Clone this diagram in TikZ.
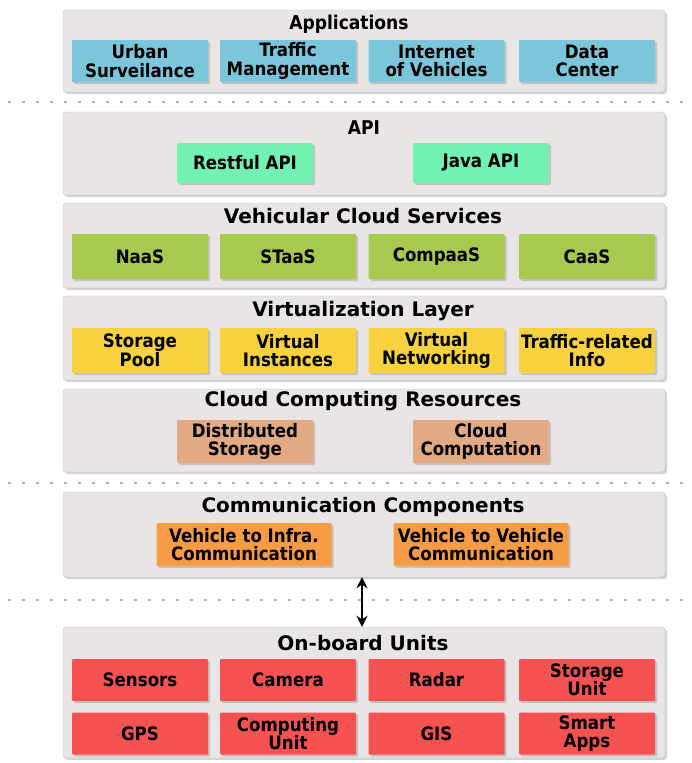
\documentclass[tikz,border=0pt]{standalone}
\usepackage{fontspec}
\setmainfont{DejaVu Sans}
\newfontfamily\condfont{DejaVu Sans Condensed}
\usetikzlibrary{shadows,arrows.meta}
\definecolor{layergray}{HTML}{E9E5E5}
\definecolor{appblue}{HTML}{7CC6DC}
\definecolor{apimint}{HTML}{72F2B2}
\definecolor{svcgreen}{HTML}{A9C84F}
\definecolor{virtyellow}{HTML}{F8D23E}
\definecolor{restan}{HTML}{E2AA82}
\definecolor{commorange}{HTML}{F79C45}
\definecolor{obured}{HTML}{F65252}
\tikzset{
  layerbox/.style={draw=gray!50, fill=layergray, rounded corners=3pt, minimum width=602pt, inner sep=0pt,
    drop shadow={opacity=0.35, shadow xshift=2pt, shadow yshift=-2pt}},
  layertitle/.style={font=\bfseries\fontsize{20}{22}\selectfont, inner sep=0pt},
  condtitle/.style={font=\condfont\bfseries\fontsize{19}{21}\selectfont, inner sep=0pt},
  item/.style={minimum width=136pt, minimum height=42pt, inner sep=0pt, align=center,
    font=\condfont\bfseries\fontsize{18.5}{18.5}\selectfont, rounded corners=1pt,
    drop shadow={opacity=0.35, shadow xshift=2pt, shadow yshift=-2pt}},
  sep/.style={draw=gray!60, line width=1.5pt, dash pattern=on 3pt off 11pt}
}
\begin{document}
\begin{tikzpicture}[x=1pt,y=-1pt]
\useasboundingbox (0,0) rectangle (692,763);
% layers
\node[layerbox, minimum height=82pt] (app) at (364,51) {};
\node[layerbox, minimum height=83pt] (api) at (364,153.5) {};
\node[layerbox, minimum height=85pt] (vcs) at (364,245.5) {};
\node[layerbox, minimum height=84pt] (virt) at (364,338) {};
\node[layerbox, minimum height=83pt] (ccr) at (364,430.5) {};
\node[layerbox, minimum height=85pt] (comm) at (364,534.5) {};
\node[layerbox, minimum height=131pt] (obu) at (364,692.5) {};
% titles
\node[condtitle] (tapp) at (349,24) {Applications};
\node[condtitle] (tapi) at (364,128) {API};
\node[layertitle] (tvcs) at (363,216) {Vehicular Cloud Services};
\node[layertitle] (tvirt) at (363,311) {Virtualization Layer};
\node[layertitle] (tccr) at (363,401) {Cloud Computing Resources};
\node[layertitle] (tcomm) at (363,507) {Communication Components};
\node[layertitle] (tobu) at (363,643) {On-board Units};
% applications
\node[item, fill=appblue] (a1) at (140,61) {Urban\\Surveilance};
\node[item, fill=appblue] (a2) at (288,61) {Traffic\\Management};
\node[item, fill=appblue] (a3) at (436.5,61) {Internet\\of Vehicles};
\node[item, fill=appblue] (a4) at (587,61) {Data\\Center};
% api
\node[item, fill=apimint, minimum height=40pt] (p1) at (245,163) {Restful API};
\node[item, fill=apimint, minimum height=40pt] (p2) at (481,163) {Java API};
% services
\node[item, fill=svcgreen, minimum height=45pt] (s1) at (140,256.5) {NaaS};
\node[item, fill=svcgreen, minimum height=45pt] (s2) at (288,256.5) {STaaS};
\node[item, fill=svcgreen, minimum height=45pt] (s3) at (436.5,256.5) {CompaaS};
\node[item, fill=svcgreen, minimum height=45pt] (s4) at (587,256.5) {CaaS};
% virtualization
\node[item, fill=virtyellow, minimum height=45pt] (v1) at (140,350.5) {Storage\\Pool};
\node[item, fill=virtyellow, minimum height=45pt] (v2) at (288,350.5) {Virtual\\Instances};
\node[item, fill=virtyellow, minimum height=45pt] (v3) at (436.5,350.5) {Virtual\\Networking};
\node[item, fill=virtyellow, minimum height=45pt] (v4) at (587,350.5) {Traffic-related\\Info};
% resources
\node[item, fill=restan, minimum height=43pt] (r1) at (245,441.5) {Distributed\\Storage};
\node[item, fill=restan, minimum height=43pt] (r2) at (481,441.5) {Cloud\\Computation};
% communication
\node[item, fill=commorange, minimum height=43pt, minimum width=175pt] (c1) at (244,544.5) {Vehicle to Infra.\\Communication};
\node[item, fill=commorange, minimum height=43pt, minimum width=175pt] (c2) at (481,544.5) {Vehicle to Vehicle\\Communication};
% on-board
\node[item, fill=obured] (o1) at (140,680) {Sensors};
\node[item, fill=obured] (o2) at (288,680) {Camera};
\node[item, fill=obured] (o3) at (436.5,680) {Radar};
\node[item, fill=obured] (o4) at (587,680) {Storage\\Unit};
\node[item, fill=obured] (o5) at (140,733.5) {GPS};
\node[item, fill=obured] (o6) at (288,733.5) {Computing\\Unit};
\node[item, fill=obured] (o7) at (436.5,733.5) {GIS};
\node[item, fill=obured] (o8) at (587,733.5) {Smart\\Apps};
% separators
\coordinate (d1a) at (8,102); \coordinate (d1b) at (692,102);
\coordinate (d2a) at (8,483); \coordinate (d2b) at (692,483);
\coordinate (d3a) at (8,600); \coordinate (d3b) at (692,600);
\draw[sep] (d1a) -- (d1b);
\draw[sep] (d2a) -- (d2b);
\draw[sep] (d3a) -- (d3b);
% arrow
\draw[line width=2.6pt, {Stealth[length=11pt,width=11pt]}-{Stealth[length=11pt,width=11pt]}] (comm.south -| 362,0) -- (obu.north -| 362,0);
\end{tikzpicture}
\end{document}
